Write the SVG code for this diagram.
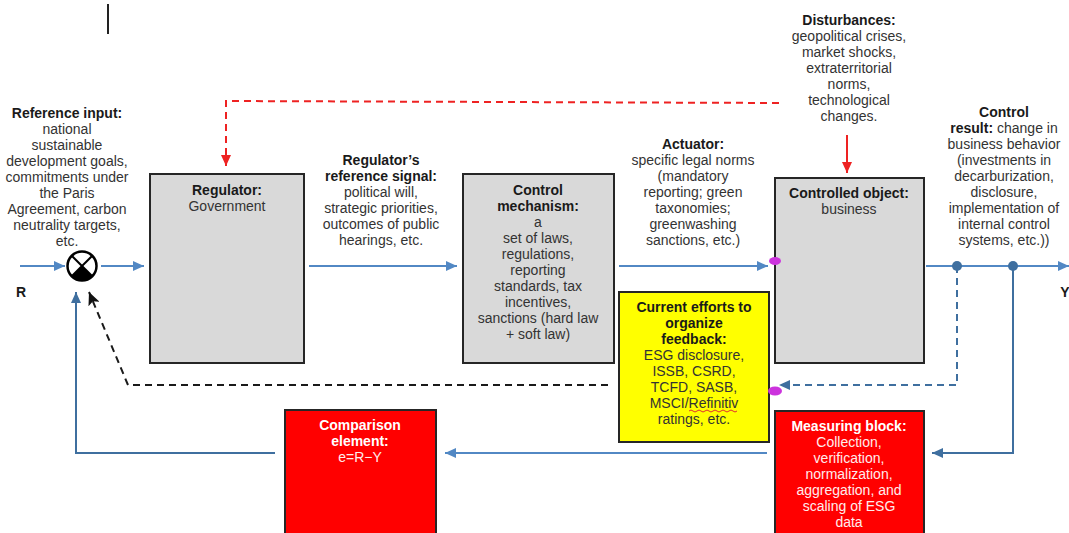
<svg xmlns="http://www.w3.org/2000/svg" width="1069" height="533" viewBox="0 0 1069 533">
<defs>
<style>
text { font-family: "Liberation Sans", Arial, sans-serif; font-size: 14px; text-anchor: middle; fill: #333333; }
.b { font-weight: bold; fill: #1a1a1a; }
.w { fill: #ffecec; }
.wb { fill: #ffffff; font-weight: bold; }
.box { fill: #d9d9d9; stroke: #262626; stroke-width: 2; }
.redbox { fill: #ff0000; stroke: #262626; stroke-width: 2; }
.yelbox { fill: #ffff00; stroke: #262626; stroke-width: 2; }
.fw { stroke: #5288c4; stroke-width: 2; fill: none; }
.fb { stroke: #3f6f9f; stroke-width: 2; fill: none; }
.fbd { stroke: #3f6f9f; stroke-width: 2; fill: none; stroke-dasharray: 7 5; }
.kd { stroke: #1a1a1a; stroke-width: 2; fill: none; stroke-dasharray: 7 5; }
.rd { stroke: #ee2222; stroke-width: 2; fill: none; stroke-dasharray: 7 5; }
.rs { stroke: #ee2222; stroke-width: 2; fill: none; }
.dot { fill: #3f6f9f; }
.mag { fill: #cc33dd; }
</style>
<marker id="ab" markerUnits="userSpaceOnUse" markerWidth="12" markerHeight="10" refX="11" refY="5" orient="auto"><path d="M0,0 L11,5 L0,10 z" fill="#5288c4"/></marker>
<marker id="abd" markerUnits="userSpaceOnUse" markerWidth="12" markerHeight="10" refX="11" refY="5" orient="auto"><path d="M0,0 L11,5 L0,10 z" fill="#3f6f9f"/></marker>
<marker id="ar" markerUnits="userSpaceOnUse" markerWidth="12" markerHeight="10" refX="11" refY="5" orient="auto"><path d="M0,0 L11,5 L0,10 z" fill="#ee2222"/></marker>
<marker id="ak" markerUnits="userSpaceOnUse" markerWidth="14" markerHeight="12" refX="13" refY="6" orient="auto"><path d="M0,0 L13,6 L0,12 L3,6 z" fill="#111111"/></marker>
</defs>
<rect x="0" y="0" width="1069" height="533" fill="#ffffff"/>
<line x1="108" y1="4" x2="108" y2="34" stroke="#222" stroke-width="2"/>

<g id="connectors">
  <line class="fw" x1="20" y1="266" x2="65" y2="266" marker-end="url(#ab)"/>
  <line class="fw" x1="101" y1="266" x2="144" y2="266" marker-end="url(#ab)"/>
  <line class="fw" x1="309" y1="266" x2="457" y2="266" marker-end="url(#ab)"/>
  <line class="fw" x1="619" y1="266" x2="768" y2="266" marker-end="url(#ab)"/>
  <line class="fw" x1="926" y1="266" x2="1069" y2="266" marker-end="url(#ab)"/>
  <polyline class="fbd" points="957,266 957,385 779,385" marker-end="url(#abd)"/>
  <polyline class="fb" points="1013,266 1013,453 932,453" marker-end="url(#abd)"/>
  <line class="fw" x1="767" y1="453" x2="445" y2="453" marker-end="url(#ab)"/>
  <polyline class="fb" points="275,453 76,453 76,292" marker-end="url(#abd)"/>
  <polyline class="kd" points="608,385 128,385 89,292" marker-end="url(#ak)"/>
  <polyline class="rd" points="779,103 226,101 226,166" marker-end="url(#ar)"/>
  <line class="rs" x1="847" y1="135" x2="847" y2="173" marker-end="url(#ar)"/>
  <circle class="dot" cx="957" cy="266" r="5"/>
  <circle class="dot" cx="1013" cy="266" r="5"/>
</g>

<g id="reference-input">
  <text class="b" x="67" y="118">Reference input:</text>
  <text x="67" y="134">national</text>
  <text x="67" y="150">sustainable</text>
  <text x="67" y="166">development goals,</text>
  <text x="67" y="182">commitments under</text>
  <text x="67" y="198">the Paris</text>
  <text x="67" y="214">Agreement, carbon</text>
  <text x="67" y="230">neutrality targets,</text>
  <text x="67" y="246">etc.</text>
  <text class="b" x="21" y="297">R</text>
</g>

<g id="summing-junction">
  <circle cx="82" cy="266" r="14.5" fill="#ffffff" stroke="#000" stroke-width="2.5"/>
  <path d="M82,266 L71.7,276.3 A14.5,14.5 0 0 0 92.3,276.3 Z" fill="#000"/>
  <line x1="71.7" y1="255.7" x2="92.3" y2="276.3" stroke="#000" stroke-width="2"/>
  <line x1="92.3" y1="255.7" x2="71.7" y2="276.3" stroke="#000" stroke-width="2"/>
</g>

<g id="regulator">
  <rect class="box" x="150" y="174" width="154" height="189"/>
  <text class="b" x="227" y="195">Regulator:</text>
  <text x="227" y="211">Government</text>
</g>

<g id="reference-signal">
  <text class="b" x="381" y="165">Regulator’s</text>
  <text class="b" x="381" y="181">reference signal:</text>
  <text x="381" y="197">political will,</text>
  <text x="381" y="213">strategic priorities,</text>
  <text x="381" y="229">outcomes of public</text>
  <text x="381" y="245">hearings, etc.</text>
</g>

<g id="control-mechanism">
  <rect class="box" x="463" y="174" width="151" height="189"/>
  <text class="b" x="538" y="195">Control</text>
  <text class="b" x="538" y="211">mechanism:</text>
  <text x="538" y="227">a</text>
  <text x="538" y="243">set of laws,</text>
  <text x="538" y="259">regulations,</text>
  <text x="538" y="275">reporting</text>
  <text x="538" y="291">standards, tax</text>
  <text x="538" y="307">incentives,</text>
  <text x="538" y="323">sanctions (hard law</text>
  <text x="538" y="339">+ soft law)</text>
</g>

<g id="actuator">
  <text class="b" x="693" y="149">Actuator:</text>
  <text x="693" y="165">specific legal norms</text>
  <text x="693" y="181">(mandatory</text>
  <text x="693" y="197">reporting; green</text>
  <text x="693" y="213">taxonomies;</text>
  <text x="693" y="229">greenwashing</text>
  <text x="693" y="245">sanctions, etc.)</text>
</g>

<g id="disturbances">
  <text class="b" x="849" y="25">Disturbances:</text>
  <text x="849" y="41">geopolitical crises,</text>
  <text x="849" y="57">market shocks,</text>
  <text x="849" y="73">extraterritorial</text>
  <text x="849" y="89">norms,</text>
  <text x="849" y="105">technological</text>
  <text x="849" y="121">changes.</text>
</g>

<g id="controlled-object">
  <rect class="box" x="775" y="178" width="149" height="185"/>
  <text class="b" x="849" y="198">Controlled object:</text>
  <text x="849" y="214">business</text>
</g>

<g id="control-result">
  <text class="b" x="1004" y="117">Control</text>
  <text x="1004" y="133"><tspan class="b">result:</tspan> change in</text>
  <text x="1004" y="149">business behavior</text>
  <text x="1004" y="165">(investments in</text>
  <text x="1004" y="181">decarburization,</text>
  <text x="1004" y="197">disclosure,</text>
  <text x="1004" y="213">implementation of</text>
  <text x="1004" y="229">internal control</text>
  <text x="1004" y="245">systems, etc.))</text>
  <text class="b" x="1065" y="297">Y</text>
</g>

<g id="feedback-efforts">
  <rect class="yelbox" x="619" y="292" width="150" height="150"/>
  <text class="b" x="694" y="312">Current efforts to</text>
  <text class="b" x="694" y="328">organize</text>
  <text class="b" x="694" y="344">feedback:</text>
  <text x="694" y="360">ESG disclosure,</text>
  <text x="694" y="376">ISSB, CSRD,</text>
  <text x="694" y="392">TCFD, SASB,</text>
  <text x="694" y="408">MSCI/Refinitiv</text>
  <path d="M689,411 q2,-2 4,0 t4,0 t4,0 t4,0 t4,0 t4,0 t4,0 t4,0 t4,0 t4,0 t4,0 t4,0" fill="none" stroke="#e03030" stroke-width="1"/>
  <text x="694" y="424">ratings, etc.</text>
</g>

<g id="comparison-element">
  <rect class="redbox" x="285" y="410" width="151" height="130"/>
  <text class="wb" x="360" y="430">Comparison</text>
  <text class="wb" x="360" y="446">element:</text>
  <text class="w" x="360" y="462">e=R−Y</text>
</g>

<g id="measuring-block">
  <rect class="redbox" x="775" y="411" width="149" height="130"/>
  <text class="wb" x="849" y="431">Measuring block:</text>
  <text class="w" x="849" y="447">Collection,</text>
  <text class="w" x="849" y="463">verification,</text>
  <text class="w" x="849" y="479">normalization,</text>
  <text class="w" x="849" y="495">aggregation, and</text>
  <text class="w" x="849" y="511">scaling of ESG</text>
  <text class="w" x="849" y="527">data</text>
</g>

<g id="port-markers">
  <ellipse class="mag" cx="775" cy="261" rx="6" ry="4"/>
  <ellipse class="mag" cx="775" cy="391" rx="7" ry="4.5"/>
</g>
</svg>
